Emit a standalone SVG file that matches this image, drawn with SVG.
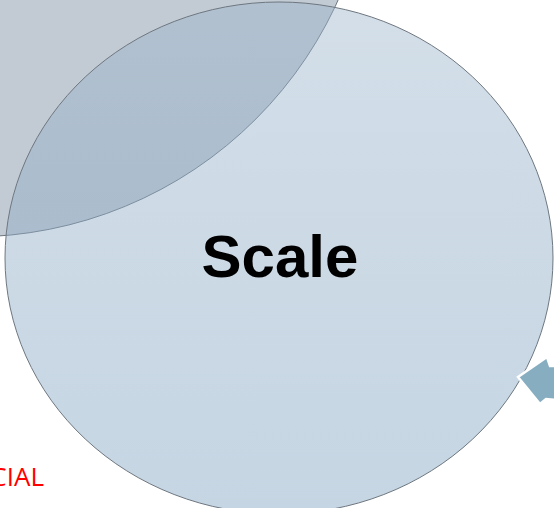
<svg xmlns="http://www.w3.org/2000/svg" width="554" height="508" viewBox="0 0 554 508">
  <defs>
    <linearGradient id="mainGrad" x1="0" y1="0" x2="0" y2="1">
      <stop offset="0" stop-color="#9bb4cb"/>
      <stop offset="1" stop-color="#7ba0bf"/>
    </linearGradient>
    <style>
      .edge { stroke: #6e7780; stroke-width: 1; }
      .label { font-family: "Liberation Sans", Arial, sans-serif; font-weight: bold; fill: #000; }
      .red { font-family: "Open Sans", "Liberation Sans", sans-serif; fill: #ff0000; }
    </style>
  </defs>
  <rect width="554" height="508" fill="#ffffff"/>
  <g id="node-grey">
    <circle cx="-29" cy="-166" r="403" fill="#c2cad3" class="edge"/>
  </g>
  <g id="node-scale">
    <ellipse cx="279" cy="258" rx="274" ry="256" fill="url(#mainGrad)" fill-opacity="0.44" class="edge"/>
    <text class="label" x="280" y="277" font-size="60" text-anchor="middle">Scale</text>
  </g>
  <g id="connectors">
    <polygon points="518,377 547,357 550,366 556,366 556,400 546,399 540,404" fill="#87adc1" stroke="#ffffff" stroke-width="2.5" stroke-linejoin="miter"/>
  </g>
  <g id="note">
    <text class="red" x="44" y="486" font-size="26" text-anchor="end">CIAL</text>
  </g>
</svg>
